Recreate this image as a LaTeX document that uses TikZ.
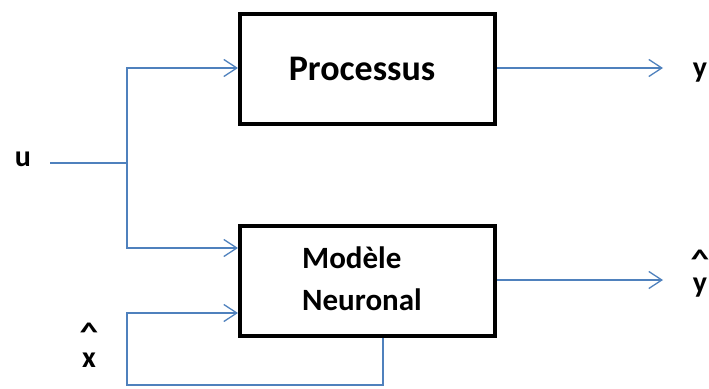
\documentclass[tikz,border=0pt]{standalone}
\usepackage{fontspec}
\setmainfont{Carlito}
\usetikzlibrary{arrows.meta}
\definecolor{lineblue}{RGB}{79,129,189}
\tikzset{
  blk/.style={draw=black, line width=4pt, minimum width=255pt, minimum height=110pt, inner sep=0pt},
  conn/.style={draw=lineblue, line width=1.3pt},
  arr/.style={conn, -{Straight Barb[length=13pt,width=17pt,line width=1.3pt]}},
  lbl/.style={font=\bfseries\fontsize{36}{40}\selectfont, inner sep=0pt},
  sig/.style={font=\bfseries\fontsize{30}{36}\selectfont, inner sep=0pt},
  hatmark/.style={font=\bfseries\fontsize{30}{36}\selectfont, inner sep=0pt, text height=20pt, text depth=-13pt}
}
\newcommand{\widehatglyph}{\scalebox{1.25}[0.9]{\^{}}}
\begin{document}
\begin{tikzpicture}[x=1pt,y=-1pt]
\useasboundingbox (0,0) rectangle (709,388);
\node[blk] (proc) at (367.5,69) {};
\node[lbl, anchor=base] (proctxt) at (362,80) {Processus};
\node[blk] (mod) at (367.5,281) {};
\node[lbl, align=left, anchor=north west, font=\bfseries\fontsize{31}{42}\selectfont] (modtxt) at (302,247) {Modèle\\Neuronal};
\node[sig, anchor=base] (u) at (23,166) {u};
\node[sig, anchor=base] (y) at (700,77) {y};
\node[sig, anchor=base] (yh) at (700,292) {y};
\node[hatmark, anchor=base] (yhat) at (700,268) {\widehatglyph};
\node[sig, anchor=base] (xh) at (89,367) {x};
\node[hatmark, anchor=base] (xhat) at (89,341) {\widehatglyph};
\coordinate (ustart) at (50,163);
\coordinate (split) at (127,163);
\coordinate (ytop) at (127,68);
\coordinate (ybot) at (127,248);
\coordinate (fbin) at (127,313);
\coordinate (fbcorner) at (127,385);
\coordinate (fbout) at (383,385);
\coordinate (yend) at (663,68);
\coordinate (yhend) at (663,280);
\draw[conn] (ustart) -- (split);
\draw[arr] (split) -- (ytop) -- (ytop -| proc.west);
\draw[arr] (split) -- (ybot) -- (ybot -| mod.west);
\draw[arr] (mod.south -| fbout) -- (fbout) -- (fbcorner) -- (fbin) -- (fbin -| mod.west);
\draw[arr] (yend -| proc.east) -- (yend);
\draw[arr] (yhend -| mod.east) -- (yhend);
\end{tikzpicture}
\end{document}
